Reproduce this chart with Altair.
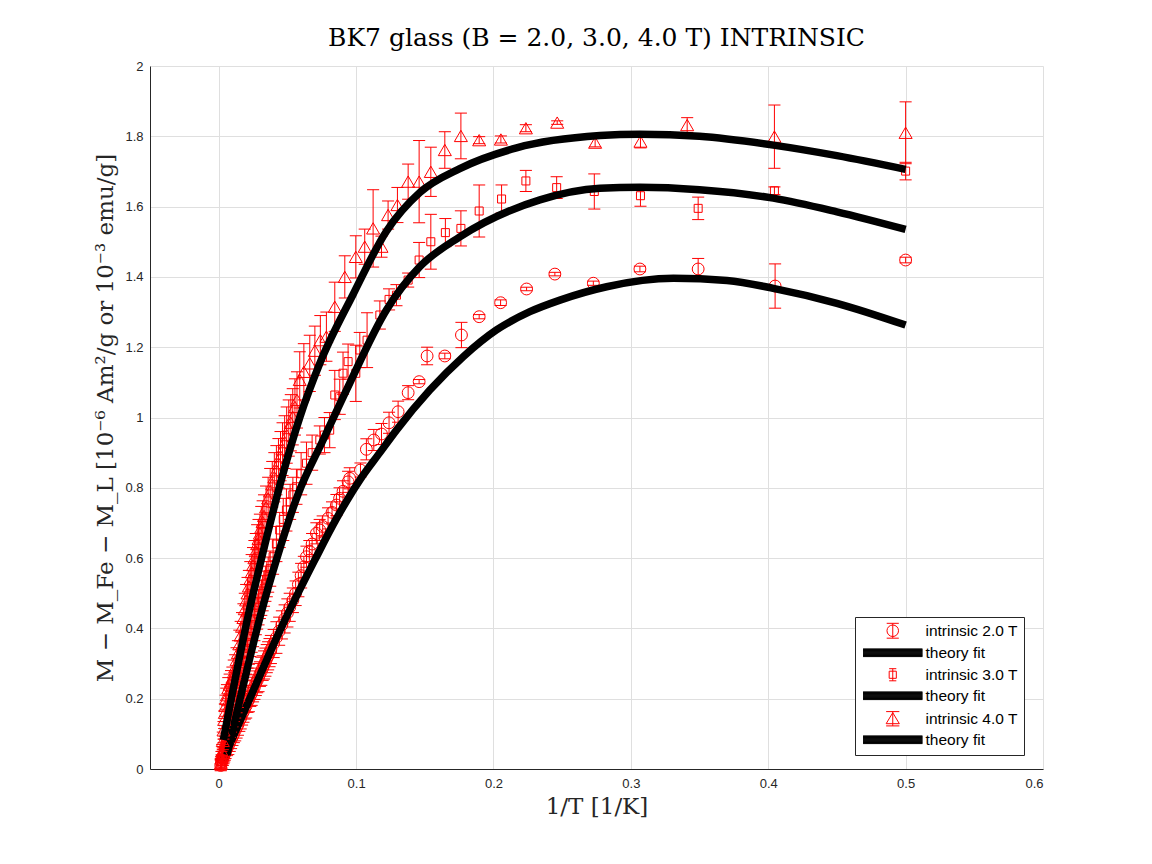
import altair as alt
import pandas as pd

RED = "#ff0000"

# ---------------- measured data: 2.0 T (circles)
x2 = [0.0015, 0.002, 0.0025, 0.003, 0.0035, 0.004, 0.0045, 0.005, 0.006, 0.007,
      0.008, 0.009, 0.010, 0.011, 0.012, 0.013, 0.014, 0.015, 0.016, 0.017,
      0.018, 0.019, 0.020, 0.021, 0.022, 0.023, 0.024, 0.025, 0.026, 0.027,
      0.028, 0.029, 0.030, 0.031, 0.032, 0.033, 0.034, 0.035, 0.036, 0.037,
      0.038, 0.040, 0.042, 0.044, 0.046, 0.048, 0.050, 0.0517, 0.054, 0.056,
      0.058, 0.060, 0.062, 0.0639, 0.066, 0.068, 0.0711, 0.0735, 0.0757, 0.0796,
      0.0825, 0.0857, 0.088, 0.0905, 0.0942, 0.0954, 0.1032, 0.1075, 0.1129, 0.1185,
      0.124, 0.1306, 0.1379, 0.1459, 0.1517, 0.1646, 0.1767, 0.1896, 0.2052, 0.2241,
      0.2447, 0.2727, 0.3066, 0.349, 0.405, 0.500]
y2 = [0.01, 0.02, 0.025, 0.03, 0.035, 0.04, 0.045, 0.05, 0.058, 0.066,
      0.075, 0.083, 0.092, 0.10, 0.11, 0.118, 0.126, 0.137, 0.144, 0.155,
      0.163, 0.172, 0.18, 0.191, 0.198, 0.208, 0.216, 0.226, 0.233, 0.244,
      0.252, 0.26, 0.27, 0.278, 0.287, 0.296, 0.304, 0.314, 0.322, 0.331,
      0.34, 0.357, 0.374, 0.392, 0.41, 0.427, 0.444, 0.46, 0.48, 0.50,
      0.525, 0.55, 0.575, 0.604, 0.62, 0.64, 0.6705, 0.68, 0.69, 0.713,
      0.73, 0.751, 0.77, 0.79, 0.817, 0.827, 0.8506, 0.9095, 0.936, 0.953,
      0.985, 1.0165, 1.0706, 1.102, 1.175, 1.175, 1.2347, 1.2868, 1.3266, 1.3656,
      1.408, 1.382, 1.4225, 1.4225, 1.374, 1.448]
e2 = [0.015, 0.015, 0.015, 0.02, 0.02, 0.02, 0.02, 0.02, 0.02, 0.025,
      0.025, 0.025, 0.025, 0.025, 0.03, 0.03, 0.03, 0.03, 0.03, 0.03,
      0.03, 0.03, 0.035, 0.03, 0.035, 0.03, 0.035, 0.035, 0.035, 0.035,
      0.035, 0.04, 0.035, 0.04, 0.035, 0.04, 0.04, 0.04, 0.04, 0.04,
      0.04, 0.04, 0.045, 0.04, 0.04, 0.04, 0.04, 0.04, 0.035, 0.035,
      0.035, 0.035, 0.03, 0.03, 0.03, 0.03, 0.03, 0.03, 0.03, 0.03,
      0.03, 0.03, 0.03, 0.03, 0.03, 0.03, 0.02, 0.03, 0.03, 0.03,
      0.03, 0.03, 0.02, 0.006, 0.025, 0.008, 0.036, 0.006, 0.008, 0.005,
      0.005, 0.006, 0.008, 0.03, 0.063, 0.008]

# ---------------- measured data: 3.0 T (squares)
x3 = [0.0015, 0.002, 0.0025, 0.003, 0.0035, 0.004, 0.0045, 0.005, 0.006, 0.007,
      0.008, 0.009, 0.010, 0.011, 0.012, 0.013, 0.014, 0.015, 0.016, 0.017,
      0.018, 0.019, 0.020, 0.021, 0.022, 0.023, 0.024, 0.025, 0.026, 0.027,
      0.028, 0.029, 0.030, 0.031, 0.032, 0.033, 0.034, 0.035, 0.036, 0.0375,
      0.0396, 0.042, 0.0444, 0.047, 0.0493, 0.052, 0.054, 0.0566, 0.060, 0.0639,
      0.068, 0.0736, 0.077, 0.0808, 0.0845, 0.0881, 0.0905, 0.0942, 0.0998, 0.1027,
      0.108, 0.1173, 0.124, 0.1294, 0.1379, 0.1459, 0.1544, 0.165, 0.1763, 0.1896,
      0.2059, 0.2236, 0.246, 0.2734, 0.307, 0.349, 0.4045, 0.5]
y3 = [0.012, 0.02, 0.03, 0.04, 0.05, 0.06, 0.068, 0.075, 0.09, 0.105,
      0.12, 0.135, 0.15, 0.165, 0.18, 0.195, 0.21, 0.228, 0.244, 0.26,
      0.277, 0.293, 0.31, 0.327, 0.343, 0.36, 0.377, 0.393, 0.41, 0.427,
      0.443, 0.46, 0.473, 0.487, 0.50, 0.513, 0.527, 0.54, 0.553, 0.57,
      0.604, 0.64, 0.68, 0.71, 0.737, 0.76, 0.78, 0.803, 0.84, 0.87,
      0.90, 0.936, 0.95, 0.964, 1.064, 1.059, 1.126, 1.159, 1.1257, 1.192,
      1.22, 1.2916, 1.336, 1.348, 1.391, 1.448, 1.5, 1.526, 1.538, 1.5875,
      1.6216, 1.673, 1.654, 1.643, 1.631, 1.595, 1.645, 1.701]
e3 = [0.015, 0.02, 0.02, 0.02, 0.025, 0.025, 0.025, 0.025, 0.03, 0.03,
      0.03, 0.03, 0.03, 0.03, 0.035, 0.035, 0.035, 0.035, 0.035, 0.04,
      0.04, 0.04, 0.04, 0.04, 0.045, 0.04, 0.045, 0.045, 0.045, 0.045,
      0.045, 0.05, 0.045, 0.05, 0.05, 0.05, 0.05, 0.05, 0.05, 0.05,
      0.05, 0.05, 0.05, 0.06, 0.06, 0.05, 0.05, 0.05, 0.06, 0.06,
      0.05, 0.04, 0.05, 0.05, 0.07, 0.05, 0.06, 0.05, 0.08, 0.05,
      0.078, 0.04, 0.03, 0.03, 0.02, 0.05, 0.078, 0.04, 0.05, 0.074,
      0.04, 0.03, 0.031, 0.05, 0.03, 0.032, 0.011, 0.025]

# ---------------- measured data: 4.0 T (triangles)
x4 = [0.0015, 0.002, 0.0025, 0.003, 0.0035, 0.004, 0.0045, 0.005, 0.0055, 0.006,
      0.007, 0.008, 0.009, 0.010, 0.011, 0.012, 0.013, 0.014, 0.015, 0.016,
      0.017, 0.018, 0.019, 0.020, 0.021, 0.022, 0.023, 0.024, 0.025, 0.026,
      0.027, 0.028, 0.029, 0.030, 0.031, 0.032, 0.033, 0.0345, 0.036, 0.0375,
      0.039, 0.0405, 0.042, 0.0435, 0.045, 0.0465, 0.048, 0.0495, 0.051, 0.0525,
      0.0539, 0.0555, 0.057, 0.059, 0.062, 0.0663, 0.070, 0.074, 0.0784, 0.0845,
      0.0918, 0.0998, 0.1063, 0.1124, 0.1185, 0.1233, 0.1301, 0.1379, 0.1459, 0.1544,
      0.1646, 0.1763, 0.1896, 0.2054, 0.2236, 0.2464, 0.274, 0.307, 0.341, 0.4045,
      0.5]
y4 = [0.015, 0.03, 0.05, 0.08, 0.11, 0.14, 0.16, 0.18, 0.20, 0.21,
      0.23, 0.24, 0.25, 0.26, 0.275, 0.29, 0.31, 0.33, 0.355, 0.38,
      0.405, 0.43, 0.455, 0.48, 0.50, 0.52, 0.54, 0.56, 0.58, 0.60,
      0.62, 0.64, 0.655, 0.67, 0.687, 0.703, 0.72, 0.745, 0.77, 0.79,
      0.81, 0.83, 0.85, 0.87, 0.89, 0.91, 0.93, 0.95, 0.97, 0.985,
      1.002, 1.03, 1.05, 1.107, 1.13, 1.154, 1.19, 1.22, 1.23, 1.315,
      1.4, 1.457, 1.486, 1.538, 1.486, 1.576, 1.6045, 1.671, 1.671, 1.699,
      1.761, 1.801, 1.789, 1.791, 1.823, 1.839, 1.782, 1.785, 1.832, 1.799,
      1.81]
e4 = [0.015, 0.02, 0.02, 0.025, 0.025, 0.025, 0.025, 0.03, 0.03, 0.03,
      0.03, 0.03, 0.03, 0.03, 0.035, 0.035, 0.035, 0.035, 0.04, 0.04,
      0.04, 0.04, 0.045, 0.045, 0.045, 0.045, 0.05, 0.05, 0.05, 0.05,
      0.05, 0.055, 0.055, 0.055, 0.06, 0.06, 0.06, 0.06, 0.06, 0.065,
      0.065, 0.07, 0.07, 0.07, 0.07, 0.075, 0.075, 0.08, 0.08, 0.08,
      0.08, 0.08, 0.08, 0.08, 0.08, 0.08, 0.07, 0.07, 0.07, 0.07,
      0.06, 0.06, 0.05, 0.11, 0.03, 0.04, 0.05, 0.05, 0.117, 0.07,
      0.052, 0.065, 0.01, 0.01, 0.01, 0.005, 0.012, 0.018, 0.021, 0.09,
      0.088]

# ---------------- theory fit curves
fit2_x = [0.003, 0.019, 0.0459, 0.07, 0.0854, 0.1027, 0.1173, 0.1294, 0.1537, 0.178,
          0.2022, 0.2265, 0.2484, 0.2824, 0.331, 0.37, 0.4037, 0.45, 0.5]
fit2_y = [0.025, 0.168, 0.405, 0.595, 0.71, 0.822, 0.90, 0.964, 1.078, 1.173,
          1.249, 1.301, 1.334, 1.372, 1.396, 1.39, 1.3675, 1.325, 1.263]
fit3_x = [0.006, 0.0168, 0.0313, 0.042, 0.0576, 0.076, 0.093, 0.1221, 0.1464, 0.1755,
          0.2338, 0.2775, 0.3066, 0.35, 0.4037, 0.45, 0.5]
fit3_y = [0.04, 0.22, 0.45, 0.595, 0.78, 0.936, 1.078, 1.306, 1.429, 1.514,
          1.619, 1.652, 1.655, 1.648, 1.624, 1.585, 1.535]
fit4_x = [0.0034, 0.024, 0.03, 0.0468, 0.059, 0.0736, 0.0978, 0.1221, 0.1464, 0.1755,
          0.2168, 0.2775, 0.3066, 0.35, 0.4037, 0.45, 0.5]
fit4_y = [0.0825, 0.481, 0.58, 0.84, 1.0, 1.154, 1.35, 1.53, 1.64, 1.708,
          1.767, 1.802, 1.806, 1.80, 1.775, 1.745, 1.706]

x_ticks = [0, 0.1, 0.2, 0.3, 0.4, 0.5, 0.6]
y_ticks = [0, 0.2, 0.4, 0.6, 0.8, 1, 1.2, 1.4, 1.6, 1.8, 2]

legend_labels = ["intrinsic 2.0 T", "theory fit 2", "intrinsic 3.0 T",
                 "theory fit 3", "intrinsic 4.0 T", "theory fit 4"]

# legend glyphs (marker + error bar, thick line)
bar_path = "".join("M-5.4,%.2fH5.4" % (v / 10.0) for v in range(-7, 8))
P_CIRC = ("M1.05,0A1.05,1.05,0,1,1,-1.05,0A1.05,1.05,0,1,1,1.05,0"
          "M0,-1.35V1.35M-1.1,-1.35H1.1M-1.1,1.35H1.1")
P_SQ = "M-0.65,-0.65H0.65V0.65H-0.65ZM0,-1.1V1.1M-0.65,-1.1H0.65M-0.65,1.1H0.65"
P_TRI = "M0,-1.1L1.2,0.9H-1.2ZM0,-1.3V1.3M-1.2,-1.3H1.2M-1.2,1.3H1.2"
legend_shapes = [P_CIRC, bar_path, P_SQ, bar_path, P_TRI, bar_path]
legend_colors = [RED, "black", RED, "black", RED, "black"]

INK = "#262626"
SERIF = "DejaVu Serif"
xscale = alt.Scale(domain=[-0.05, 0.6], nice=False, zero=False)
yscale = alt.Scale(domain=[0, 2], nice=False, zero=False)
common_axis = dict(ticks=False, labelFont="Liberation Sans", labelFontSize=13,
                   labelColor=INK, titleFont=SERIF, titleFontSize=23,
                   titleFontWeight="normal", titleColor=INK, domainColor=INK,
                   domainWidth=1, gridColor="#dfdfdf", gridWidth=1, grid=True)
xaxis = alt.Axis(values=x_ticks, format="~g", title="1/T [1/K]",
                 labelPadding=8, titlePadding=5, **common_axis)
yaxis = alt.Axis(values=y_ticks, format="~g",
                 title="M − M_Fe − M_L [10⁻⁶ Am²/g or 10⁻³ emu/g]",
                 labelPadding=7, titlePadding=7, **common_axis)

CAP = 0.0044


def sdf(xs, ys, es):
    assert len(xs) == len(ys) == len(es)
    return pd.DataFrame({"x": xs, "y": ys, "e": es})


def series_layers(df, shape, size):
    base = alt.Chart(df).transform_calculate(
        lo="datum.y - datum.e", hi="datum.y + datum.e",
        xl="datum.x - %f" % CAP, xr="datum.x + %f" % CAP)
    bars = base.mark_rule(color=RED, strokeWidth=1).encode(
        x=alt.X("x:Q", scale=xscale, axis=xaxis),
        y=alt.Y("lo:Q", scale=yscale, axis=yaxis), y2="hi:Q")
    cap_lo = base.mark_rule(color=RED, strokeWidth=1).encode(
        x=alt.X("xl:Q", scale=xscale, axis=xaxis), x2="xr:Q",
        y=alt.Y("lo:Q", scale=yscale, axis=yaxis))
    cap_hi = base.mark_rule(color=RED, strokeWidth=1).encode(
        x=alt.X("xl:Q", scale=xscale, axis=xaxis), x2="xr:Q",
        y=alt.Y("hi:Q", scale=yscale, axis=yaxis))
    pts = base.mark_point(shape=shape, filled=False, color=RED, size=size,
                          strokeWidth=1, opacity=1).encode(
        x=alt.X("x:Q", scale=xscale, axis=xaxis),
        y=alt.Y("y:Q", scale=yscale, axis=yaxis))
    return [bars, cap_lo, cap_hi, pts]


def fit_layer(xs, ys):
    df = pd.DataFrame({"x": xs, "y": ys})
    return alt.Chart(df).mark_line(color="black", strokeWidth=7.5,
                                   interpolate="monotone", strokeCap="butt").encode(
        x=alt.X("x:Q", scale=xscale, axis=xaxis),
        y=alt.Y("y:Q", scale=yscale, axis=yaxis))


leg = alt.Legend(title=None, orient="none", legendX=705, legendY=551,
                 symbolOffset=24, labelOffset=25, padding=6, rowPadding=4,
                 fillColor="white", strokeColor=INK, symbolSize=121,
                 symbolStrokeWidth=1, labelFont="Liberation Sans",
                 labelFontSize=15.5, labelColor="black",
                 labelExpr="indexof(datum.label, 'theory') >= 0 ? 'theory fit' : datum.label")

legend_layer = alt.Chart(pd.DataFrame({"label": legend_labels})).transform_filter(
    "false").mark_point(filled=False, size=121, strokeWidth=1, opacity=1).encode(
    shape=alt.Shape("label:N", scale=alt.Scale(domain=legend_labels, range=legend_shapes),
                    legend=leg),
    color=alt.Color("label:N", scale=alt.Scale(domain=legend_labels, range=legend_colors),
                    legend=leg))

layers = []
layers += series_layers(sdf(x2, y2, e2), "circle", 140)
layers.append(fit_layer(fit2_x, fit2_y))
layers += series_layers(sdf(x3, y3, e3), "square", 64)
layers.append(fit_layer(fit3_x, fit3_y))
layers += series_layers(sdf(x4, y4, e4), "triangle-up", 170)
layers.append(fit_layer(fit4_x, fit4_y))
layers.append(legend_layer)

chart = alt.layer(*layers).properties(
    width=893, height=703,
    background="white",
    autosize=alt.AutoSizeParams(type="none"),
    padding={"left": 142, "top": 58, "right": 101, "bottom": 87},
    title=alt.Title("BK7 glass (B = 2.0, 3.0, 4.0 T) INTRINSIC",
                    font=SERIF, fontSize=25, fontWeight="normal",
                    color="black", offset=9, anchor="middle"),
).configure_view(stroke=None)

chart.save("out.html", embed_options={"renderer": "svg", "actions": False})
